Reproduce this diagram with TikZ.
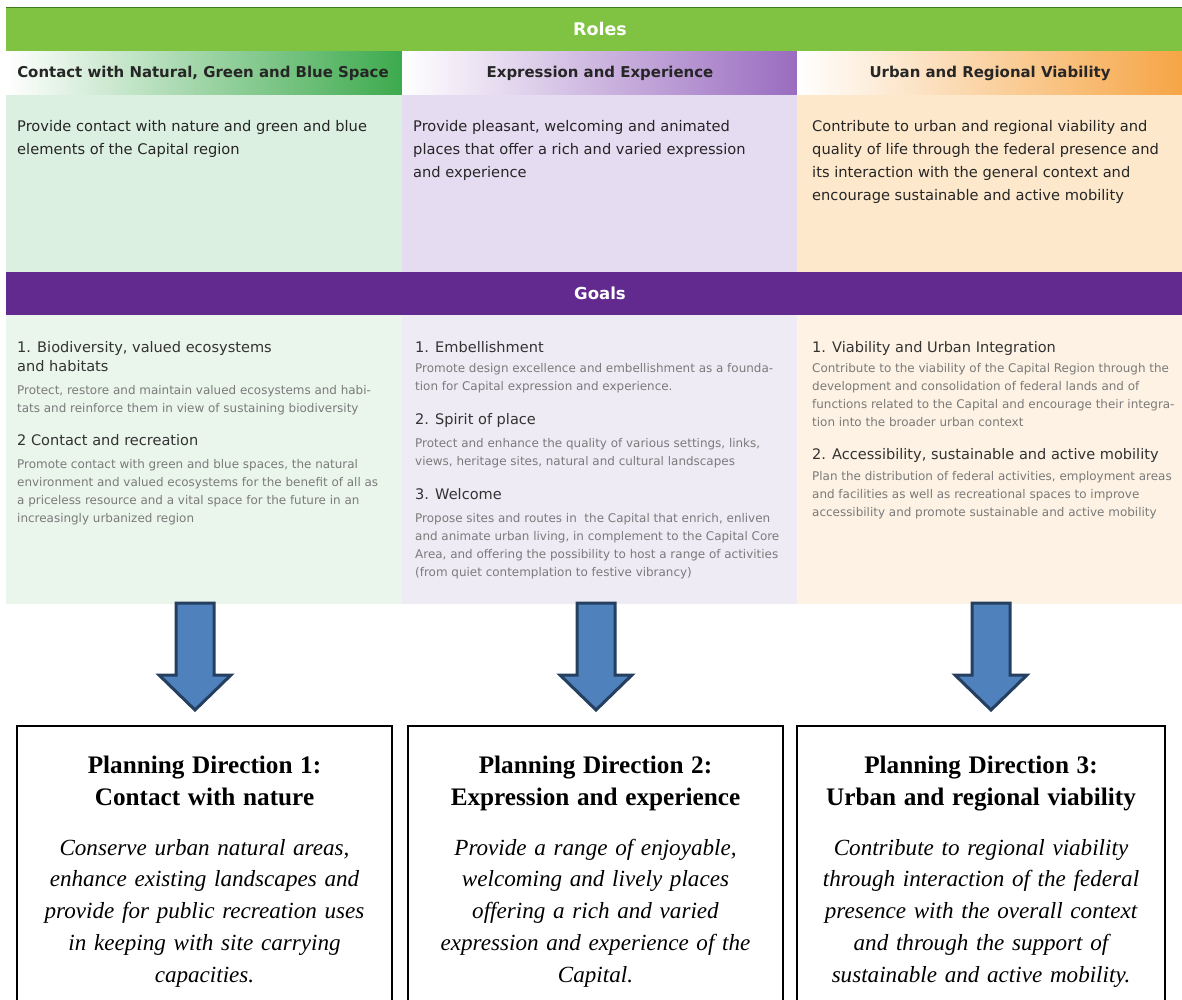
\documentclass[tikz,border=0pt]{standalone}
\usepackage{fontspec}
\setmainfont{Liberation Serif}
\newfontfamily\verdana{DejaVu Sans}
\usetikzlibrary{positioning}
\definecolor{rolegreen}{HTML}{80C342}
\definecolor{rolegreendark}{HTML}{3F7A1E}
\definecolor{hdrgreen}{HTML}{3DAA4D}
\definecolor{hdrpurple}{HTML}{9A6CC0}
\definecolor{hdrorange}{HTML}{F6A545}
\definecolor{bodygreen}{HTML}{DCF0E1}
\definecolor{bodypurple}{HTML}{E5DCF1}
\definecolor{bodyorange}{HTML}{FDE8CC}
\definecolor{goalbar}{HTML}{62298F}
\definecolor{goalgreen}{HTML}{EAF5EC}
\definecolor{goalpurple}{HTML}{EFEBF5}
\definecolor{goalorange}{HTML}{FDF2E3}
\definecolor{arrowfill}{HTML}{4F81BD}
\definecolor{arrowline}{HTML}{243F60}
\definecolor{titlegrey}{HTML}{333333}
\definecolor{smallgrey}{HTML}{7A7A7A}
\newcommand{\pdtitlefont}{\bfseries\fontsize{25.3}{32}\selectfont}

\begin{document}
\begin{tikzpicture}[x=1bp, y=-1bp,
  bartext/.style={text=white, font=\verdana\bfseries\fontsize{17.5}{20}\selectfont},
  hdrtext/.style={text=black!85, font=\verdana\bfseries\fontsize{15}{18}\selectfont},
  roletext/.style={anchor=north west, inner sep=0pt, align=left, text=black!85,
    font=\verdana\fontsize{14.7}{23}\selectfont},
  goaltitle/.style={anchor=north west, inner sep=0pt, align=left, text=titlegrey,
    font=\verdana\fontsize{14.6}{19}\selectfont},
  goaltext/.style={anchor=north west, inner sep=0pt, align=left, text=smallgrey,
    font=\verdana\fontsize{12}{18}\selectfont},
  pdbox/.style={draw=black, line width=1.5bp, anchor=north, text width=355bp,
    align=center, inner xsep=10bp, inner ysep=30bp, font=\fontsize{23.2}{32}\selectfont},
  blockarrow/.style={fill=arrowfill, draw=arrowline, line width=3bp, line join=miter}]

\useasboundingbox (0,0) rectangle (1182,1000);

% column edges
\def\xa{6}
\def\xb{402}
\def\xc{797}
\def\xd{1182}

% --- Roles bar ---
\fill[rolegreen] (\xa,7) rectangle (\xd,51);
\draw[rolegreendark, line width=1.2bp] (\xa,7.5) -- (\xd,7.5);
\node[bartext] (roles) at (600,29) {Roles};

% --- role headers (shaded) ---
\shade[left color=white, right color=hdrgreen] (\xa,51) rectangle (\xb,95);
\shade[left color=white, right color=hdrpurple] (\xb,51) rectangle (\xc,95);
\shade[left color=white, right color=hdrorange] (\xc,51) rectangle (\xd,95);
\node[hdrtext] (hnature) at (203,73) {Contact with Natural, Green and Blue Space};
\node[hdrtext] (hexpress) at (600,73) {Expression and Experience};
\node[hdrtext] (hurban) at (990,73) {Urban and Regional Viability};

% --- role descriptions ---
\fill[bodygreen] (\xa,95) rectangle (\xb,272);
\fill[bodypurple] (\xb,95) rectangle (\xc,272);
\fill[bodyorange] (\xc,95) rectangle (\xd,272);
\node[roletext] (rnature) at (17,120) {Provide contact with nature and green and blue\\elements of the Capital region};
\node[roletext] (rexpress) at (413,120) {Provide pleasant, welcoming and animated\\places that offer a rich and varied expression\\and experience};
\node[roletext] (rurban) at (812,120) {Contribute to urban and regional viability and\\quality of life through the federal presence and\\its interaction with the general context and\\encourage sustainable and active mobility};

% --- Goals bar ---
\fill[goalbar] (\xa,272) rectangle (\xd,315);
\node[bartext, font=\verdana\bfseries\fontsize{16.6}{19}\selectfont] (goals) at (600,293) {Goals};

% --- goal descriptions ---
\fill[goalgreen] (\xa,315) rectangle (\xb,604);
\fill[goalpurple] (\xb,315) rectangle (\xc,604);
\fill[goalorange] (\xc,315) rectangle (\xd,604);

% nature goals
\node[goaltitle] (g1a) at (17,341) {1. Biodiversity, valued ecosystems\\and habitats};
\node[goaltext] (g1at) at (17,385) {Protect, restore and maintain valued ecosystems and habi-\\tats and reinforce them in view of sustaining biodiversity};
\node[goaltitle] (g1b) at (17,434) {2 Contact and recreation};
\node[goaltext] (g1bt) at (17,459) {Promote contact with green and blue spaces, the natural\\environment and valued ecosystems for the benefit of all as\\a priceless resource and a vital space for the future in an\\increasingly urbanized region};

% expression goals
\node[goaltitle] (g2a) at (415,341) {1. Embellishment};
\node[goaltext] (g2at) at (415,363) {Promote design excellence and embellishment as a founda-\\tion for Capital expression and experience.};
\node[goaltitle] (g2b) at (415,413) {2. Spirit of place};
\node[goaltext] (g2bt) at (415,438) {Protect and enhance the quality of various settings, links,\\views, heritage sites, natural and cultural landscapes};
\node[goaltitle] (g2c) at (415,488) {3. Welcome};
\node[goaltext] (g2ct) at (415,513) {Propose sites and routes in\ \ the Capital that enrich, enliven\\and animate urban living, in complement to the Capital Core\\Area, and offering the possibility to host a range of activities\\(from quiet contemplation to festive vibrancy)};

% urban goals
\node[goaltitle] (g3a) at (812,341) {1. Viability and Urban Integration};
\node[goaltext] (g3at) at (812,363) {Contribute to the viability of the Capital Region through the\\development and consolidation of federal lands and of\\functions related to the Capital and encourage their integra-\\tion into the broader urban context};
\node[goaltitle] (g3b) at (812,448) {2. Accessibility, sustainable and active mobility};
\node[goaltext] (g3bt) at (812,471) {Plan the distribution of federal activities, employment areas\\and facilities as well as recreational spaces to improve\\accessibility and promote sustainable and active mobility};

% --- planning directions ---
\node[pdbox] (pd1) at (204.5,725) {{\pdtitlefont Planning Direction 1:\\Contact with nature}\\[18bp]
  \textit{Conserve urban natural areas,\\enhance existing landscapes and\\provide for public recreation uses\\in keeping with site carrying\\capacities.}};
\node[pdbox] (pd2) at (595.5,725) {{\pdtitlefont Planning Direction 2:\\Expression and experience}\\[18bp]
  \textit{Provide a range of enjoyable,\\welcoming and lively places\\offering a rich and varied\\expression and experience of the\\Capital.}};
\node[pdbox, text width=348bp] (pd3) at (981,725) {{\pdtitlefont Planning Direction 3:\\Urban and regional viability}\\[18bp]
  \textit{Contribute to regional viability\\through interaction of the federal\\presence with the overall context\\and through the support of\\sustainable and active mobility.}};

% --- block arrows from goals down to each direction ---
\foreach \cx/\k in {195/1, 596/2, 991/3}{
  \coordinate (arrtop\k) at (\cx,603);
  \coordinate (arrtip\k) at (\cx,710);
  \draw[blockarrow] (arrtop\k) ++(-19,0) -- ++(38,0) -- ++(0,72) -- ++(17,0)
    -- (arrtip\k) -- ++(-36,-35) -- ++(17,0) -- cycle;
}

\end{tikzpicture}
\end{document}
